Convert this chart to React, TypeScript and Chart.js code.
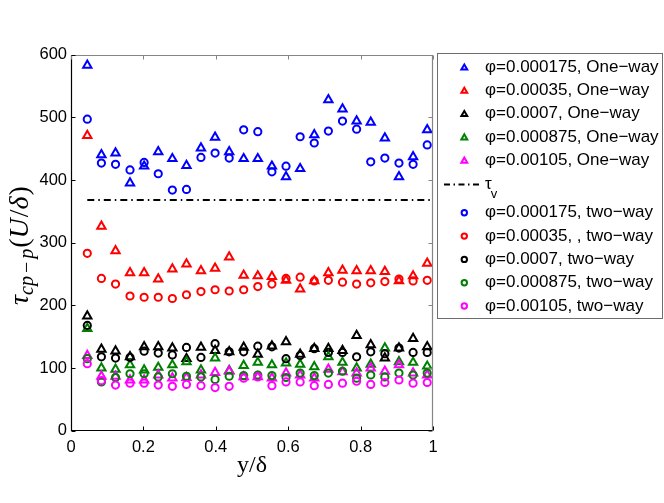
import React, { useEffect, useRef } from 'react';
import { Chart, registerables } from 'chart.js';

Chart.register(...registerables);

// ---------- data ----------
const xPositions = [0.045, 0.084, 0.123, 0.163, 0.202, 0.241, 0.28, 0.319, 0.359, 0.398, 0.437, 0.477, 0.516, 0.555, 0.594, 0.633, 0.672, 0.711, 0.75, 0.789, 0.828, 0.867, 0.906, 0.945, 0.984];

const oneWay000175 = [583, 440, 443, 395, 422, 445, 434, 423, 451, 468, 445, 434, 434, 422, 405, 418, 472, 528, 513, 494, 492, 467, 405, 437, 480];
const oneWay00035 = [471, 326, 287, 252, 252, 242, 258, 266, 255, 259, 277, 248, 247, 246, 240, 226, 239, 252, 256, 255, 255, 254, 239, 247, 267];
const oneWay0007 = [183, 130, 127, 118, 134, 134, 132, 115, 133, 128, 126, 133, 122, 135, 142, 122, 131, 131, 128, 152, 137, 116, 132, 147, 134];
const oneWay000875 = [163, 100, 98, 105, 97, 101, 105, 110, 97, 116, 96, 104, 109, 105, 108, 106, 102, 118, 109, 100, 106, 132, 110, 109, 103];
const oneWay00105 = [120, 87, 87, 81, 81, 89, 84, 85, 89, 93, 95, 86, 86, 84, 92, 89, 84, 98, 94, 92, 100, 95, 105, 92, 89];

const twoWay000175 = [497, 427, 425, 416, 428, 410, 384, 385, 436, 443, 435, 480, 477, 413, 422, 469, 459, 478, 494, 481, 429, 435, 427, 425, 456];
const twoWay00035 = [283, 243, 234, 215, 213, 213, 211, 217, 222, 225, 223, 225, 230, 234, 243, 245, 239, 240, 237, 234, 236, 238, 242, 239, 240];
const twoWay0007 = [168, 118, 116, 117, 127, 124, 121, 133, 117, 139, 126, 126, 135, 134, 115, 120, 131, 125, 125, 118, 126, 123, 132, 125, 125];
const twoWay000875 = [115, 78, 85, 91, 91, 86, 91, 87, 86, 82, 87, 88, 89, 88, 85, 92, 88, 92, 95, 84, 89, 86, 92, 89, 92];
const twoWay00105 = [107, 80, 73, 76, 76, 73, 71, 74, 72, 69, 71, 84, 86, 72, 78, 78, 72, 74, 76, 79, 74, 77, 81, 76, 77];

const tauV = 368;
const tauVRange = [0.045, 1];

const oneWaySeries = [oneWay000175, oneWay00035, oneWay0007, oneWay000875, oneWay00105];
const twoWaySeries = [twoWay000175, twoWay00035, twoWay0007, twoWay000875, twoWay00105];

const oneWayLabels = [
  'φ=0.000175, One−way',
  'φ=0.00035, One−way',
  'φ=0.0007, One−way',
  'φ=0.000875, One−way',
  'φ=0.00105, One−way',
];
const twoWayLabels = [
  'φ=0.000175, two−way',
  'φ=0.00035, , two−way',
  'φ=0.0007, two−way',
  'φ=0.000875, two−way',
  'φ=0.00105, two−way',
];
const tauLabel = 'τ';
const tauSub = 'v';

const seriesColors = ['#0000ff', '#ff0000', '#000000', '#008000', '#ff00ff'];

const xTickValues = [0, 0.2, 0.4, 0.6, 0.8, 1];
const yTickValues = [0, 100, 200, 300, 400, 500, 600];

const xTitle = 'y/δ';

// ---------- helpers ----------
function drawMarker(ctx: CanvasRenderingContext2D, style: string, x: number, y: number, r: number, color: string, lw: number) {
  ctx.save();
  ctx.strokeStyle = color;
  ctx.lineWidth = lw;
  ctx.beginPath();
  if (style === 'triangle') {
    ctx.moveTo(x, y - r);
    ctx.lineTo(x + 0.866 * r, y + 0.5 * r);
    ctx.lineTo(x - 0.866 * r, y + 0.5 * r);
    ctx.closePath();
  } else {
    ctx.arc(x, y, r, 0, Math.PI * 2);
  }
  ctx.stroke();
  ctx.restore();
}

const decorPlugin = {
  id: 'decor',
  afterDraw(chart: any) {
    const ctx: CanvasRenderingContext2D = chart.ctx;
    const a = chart.chartArea;
    const xs = chart.scales.x;
    const ys = chart.scales.y;
    const L = Math.round(a.left) + 0.5;
    const R = Math.round(a.right) - 0.5;
    const T = Math.round(a.top) + 0.5;
    const B = Math.round(a.bottom) - 0.5;
    const tickLen = 4;
    const gray = '#858585';

    ctx.save();
    // frame: top/right gray, left/bottom black
    ctx.lineWidth = 1.2;
    ctx.strokeStyle = gray;
    ctx.beginPath();
    ctx.moveTo(L, T); ctx.lineTo(R, T); ctx.lineTo(R, B);
    ctx.stroke();
    ctx.strokeStyle = '#000';
    ctx.beginPath();
    ctx.moveTo(L, T); ctx.lineTo(L, B); ctx.lineTo(R, B);
    ctx.stroke();

    // inward ticks
    ctx.lineWidth = 1;
    xTickValues.forEach((v) => {
      const px = Math.round(xs.getPixelForValue(v)) + 0.5;
      ctx.strokeStyle = '#000';
      ctx.beginPath(); ctx.moveTo(px, B); ctx.lineTo(px, B - tickLen); ctx.stroke();
      ctx.strokeStyle = gray;
      ctx.beginPath(); ctx.moveTo(px, T); ctx.lineTo(px, T + tickLen); ctx.stroke();
    });
    yTickValues.forEach((v) => {
      const py = Math.round(ys.getPixelForValue(v)) + 0.5;
      ctx.strokeStyle = '#000';
      ctx.beginPath(); ctx.moveTo(L, py); ctx.lineTo(L + tickLen, py); ctx.stroke();
      ctx.strokeStyle = gray;
      ctx.beginPath(); ctx.moveTo(R, py); ctx.lineTo(R - tickLen, py); ctx.stroke();
    });

    // x title
    ctx.fillStyle = '#000';
    ctx.font = '24px "Liberation Serif"';
    ctx.textAlign = 'center';
    ctx.textBaseline = 'alphabetic';
    ctx.fillText(xTitle, (a.left + a.right) / 2, 472);

    // y title: τ_{cp−p}(U/δ)
    const mainIt = 'italic 28px "Liberation Serif"';
    const mainUp = '28px "Liberation Serif"';
    const subIt = 'italic 20px "Liberation Serif"';
    const subUp = '20px "Liberation Serif"';
    const pieces: { t: string; f: string; dy: number; pre: number; post: number }[] = [
      { t: 'τ', f: mainIt, dy: 0, pre: 0, post: 0 },
      { t: 'cp', f: subIt, dy: 5, pre: 0, post: 3 },
      { t: '−', f: subUp, dy: 5, pre: 0, post: 3 },
      { t: 'p', f: subIt, dy: 5, pre: 0, post: 1 },
      { t: '(', f: mainUp, dy: 0, pre: 0, post: 0 },
      { t: 'U', f: mainIt, dy: 0, pre: 0, post: 1 },
      { t: '/', f: mainUp, dy: 0, pre: 0, post: 0 },
      { t: 'δ', f: mainIt, dy: 0, pre: 0, post: 1 },
      { t: ')', f: mainUp, dy: 0, pre: 0, post: 0 },
    ];
    let total = 0;
    pieces.forEach((p) => { ctx.font = p.f; total += p.pre + ctx.measureText(p.t).width + p.post; });
    ctx.save();
    ctx.translate(28, 245.5);
    ctx.rotate(-Math.PI / 2);
    ctx.textAlign = 'left';
    let cx = -total / 2;
    pieces.forEach((p) => {
      ctx.font = p.f;
      cx += p.pre;
      ctx.fillText(p.t, cx, p.dy);
      cx += ctx.measureText(p.t).width + p.post;
    });
    ctx.restore();

    // legend
    const bx = 437.5, by = 53.5, bw = 225, bh = 265;
    ctx.fillStyle = '#fff';
    ctx.fillRect(bx, by, bw, bh);
    ctx.strokeStyle = '#6e6e6e';
    ctx.lineWidth = 1;
    ctx.strokeRect(bx, by, bw, bh);

    const markerX = 464.3;
    const textX = 485;
    const step = 23.3;
    const y0 = 67;
    ctx.font = '17px "Liberation Sans"';
    ctx.textAlign = 'left';
    ctx.textBaseline = 'middle';
    ctx.fillStyle = '#000';
    oneWayLabels.forEach((lab, i) => {
      const y = y0 + i * step;
      drawMarker(ctx, 'triangle', markerX, y + 0.8, 3.4, seriesColors[i], 2);
      ctx.font = '17px "Liberation Sans"';
      ctx.fillText(lab, textX, y);
    });
    // tau entry
    const ty = y0 + 5 * step + 1;
    ctx.save();
    ctx.strokeStyle = '#000';
    ctx.lineWidth = 1.8;
    ctx.setLineDash([6, 3.5, 1.5, 3.5]);
    ctx.beginPath(); ctx.moveTo(444, ty); ctx.lineTo(480, ty); ctx.stroke();
    ctx.restore();
    ctx.textBaseline = 'alphabetic';
    ctx.font = '17px "Liberation Sans"';
    ctx.fillText(tauLabel, 485, ty + 4.5);
    const tw = ctx.measureText(tauLabel).width;
    ctx.font = '13px "Liberation Sans"';
    ctx.fillText(tauSub, 485 + tw - 1, ty + 13);
    ctx.textBaseline = 'middle';
    twoWayLabels.forEach((lab, i) => {
      const y = y0 + (i + 6) * step + 6;
      drawMarker(ctx, 'circle', markerX, y, 2.7, seriesColors[i], 2);
      ctx.font = '17px "Liberation Sans"';
      ctx.fillText(lab, textX, y);
    });
    ctx.restore();
  },
};

export default function App() {
  const canvasRef = useRef<HTMLCanvasElement | null>(null);

  useEffect(() => {
    if (!canvasRef.current) return;
    const datasets: any[] = [];
    let orderIdx = 0;
    oneWaySeries.forEach((vals, i) => {
      datasets.push({
        label: oneWayLabels[i],
        data: xPositions.map((x, k) => ({ x, y: vals[k] })),
        pointStyle: 'triangle',
        pointRadius: 4.8,
        pointHoverRadius: 4.8,
        pointBorderWidth: 2,
        borderColor: seriesColors[i],
        backgroundColor: 'rgba(0,0,0,0)',
        showLine: false,
        order: 50 - orderIdx++,
      });
    });
    datasets.push({
      label: 'tau_v',
      data: tauVRange.map((x) => ({ x, y: tauV })),
      showLine: true,
      pointRadius: 0,
      borderColor: '#000',
      borderWidth: 2,
      borderDash: [7, 4, 1.5, 4],
      backgroundColor: 'rgba(0,0,0,0)',
      order: 50 - orderIdx++,
    });
    twoWaySeries.forEach((vals, i) => {
      datasets.push({
        label: twoWayLabels[i],
        data: xPositions.map((x, k) => ({ x, y: vals[k] })),
        pointStyle: 'circle',
        pointRadius: 3.6,
        pointHoverRadius: 3.6,
        pointBorderWidth: 2,
        borderColor: seriesColors[i],
        backgroundColor: 'rgba(0,0,0,0)',
        showLine: false,
        order: 50 - orderIdx++,
      });
    });

    const tickFont = { family: 'Liberation Sans', size: 16.5 };
    const chart = new Chart(canvasRef.current, {
      type: 'scatter',
      data: { datasets },
      options: {
        responsive: false,
        animation: false,
        events: [],
        layout: { padding: { left: 0, top: 54.6, right: 231, bottom: 0 } },
        plugins: { legend: { display: false }, tooltip: { enabled: false }, title: { display: false } },
        scales: {
          x: {
            type: 'linear',
            min: 0,
            max: 1,
            grid: { display: false, drawTicks: false },
            border: { display: false },
            afterBuildTicks: (s: any) => { s.ticks = xTickValues.map((v) => ({ value: v })); },
            afterFit: (s: any) => { s.height = 503 - 430.8; },
            ticks: {
              color: '#000',
              font: tickFont,
              padding: 7,
              maxRotation: 0,
              autoSkip: false,
              callback: (v: any) => String(Number(Number(v).toFixed(1))),
            },
          },
          y: {
            type: 'linear',
            min: 0,
            max: 600,
            grid: { display: false, drawTicks: false },
            border: { display: false },
            afterBuildTicks: (s: any) => { s.ticks = yTickValues.map((v) => ({ value: v })); },
            afterFit: (s: any) => { s.width = 71; },
            ticks: {
              color: '#000',
              font: tickFont,
              padding: 4,
              autoSkip: false,
              callback: (v: any) => String(v),
            },
          },
        },
      },
      plugins: [decorPlugin],
    } as any);
    return () => chart.destroy();
  }, []);

  return (
    <div style={{ position: 'absolute', left: 0, top: 0, width: 664, height: 503, background: '#fff' }}>
      <canvas ref={canvasRef} width={664} height={503} style={{ width: 664, height: 503 }} />
    </div>
  );
}
